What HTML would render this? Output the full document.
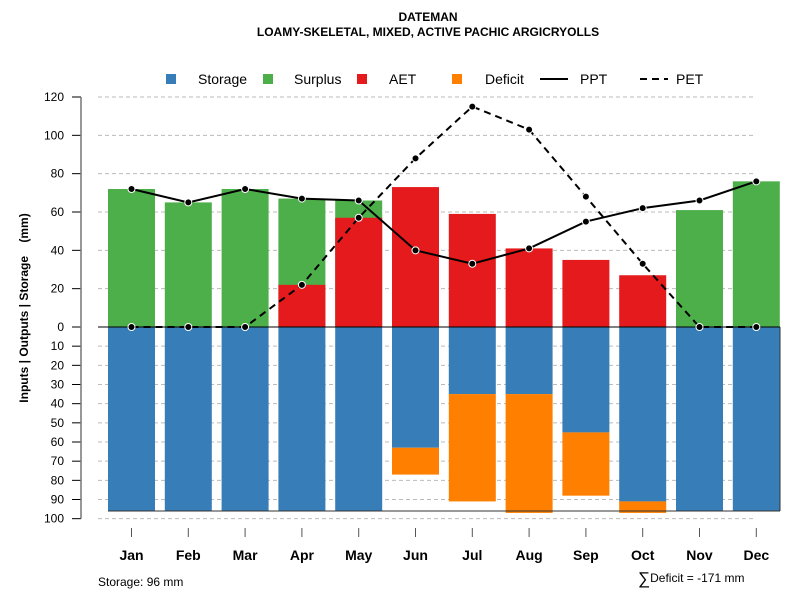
<!DOCTYPE html>
<html><head><meta charset="utf-8"><style>
body{margin:0;background:#fff}
svg text{font-family:"Liberation Sans",sans-serif}
</style></head><body>
<svg id="c" width="800" height="600" xmlns="http://www.w3.org/2000/svg">
<text x="428" y="21" text-anchor="middle" font-size="12" font-weight="bold">DATEMAN</text>
<text x="428" y="36" text-anchor="middle" font-size="12" font-weight="bold">LOAMY-SKELETAL, MIXED, ACTIVE PACHIC ARGICRYOLLS</text>
<g>
<rect x="166" y="74" width="10" height="10" fill="#377eb8"/>
<text x="198" y="84" font-size="14">Storage</text>
<rect x="263" y="74" width="10" height="10" fill="#4daf4a"/>
<text x="294" y="84" font-size="14">Surplus</text>
<rect x="357" y="74" width="10" height="10" fill="#e41a1c"/>
<text x="389" y="84" font-size="14">AET</text>
<rect x="452" y="74" width="10" height="10" fill="#ff7f00"/>
<text x="485" y="84" font-size="14">Deficit</text>
<line x1="540" y1="79" x2="568" y2="79" stroke="#000" stroke-width="2"/>
<text x="580" y="84" font-size="14">PPT</text>
<line x1="640" y1="79" x2="668" y2="79" stroke="#000" stroke-width="2" stroke-dasharray="7,5"/>
<text x="676" y="84" font-size="14">PET</text>
</g>
<text transform="translate(28,308) rotate(-90)" text-anchor="middle" font-size="12" font-weight="bold" style="white-space:pre">Inputs | Outputs | Storage    (mm)</text>
<text x="98" y="586" font-size="12">Storage: 96 mm</text>
<text x="638" y="582" font-size="12"><tspan font-size="17" dy="2">∑</tspan><tspan dy="-2">Deficit = -171 mm</tspan></text>
<g id="grid"></g><g id="bars"></g><g id="axes"></g><g id="lines"></g>
</svg>
<script>
const months=["Jan","Feb","Mar","Apr","May","Jun","Jul","Aug","Sep","Oct","Nov","Dec"];
const ppt=[72,65,72,67,66,40,33,41,55,62,66,76];
const pet=[0,0,0,22,57,88,115,103,68,33,0,0];
const aet=[0,0,0,22,57,73,59,41,35,27,0,0];
const surplusTop=[72,65,72,67,66,0,0,0,0,0,61,76];
const storage=[96,96,96,96,96,63,35,35,55,91,96,96];
const deficit=[0,0,0,0,0,14,56,62,33,6,0,0];
const upTicks=[0,20,40,60,80,100,120];
const downTicks=[10,20,30,40,50,60,70,80,90,100];
const NS="http://www.w3.org/2000/svg";
const y0=327,k=1.9167;
const yUp=v=>y0-v*k, yDn=v=>y0+v*k;
const xC=i=>131.5+56.8*i, bw=47;
function mk(tag,attrs,parent){const e=document.createElementNS(NS,tag);for(const a in attrs)e.setAttribute(a,attrs[a]);document.getElementById(parent).appendChild(e);return e;}
upTicks.forEach(t=>{
 if(t>0){const g=mk('line',{x1:98,x2:755,y1:yUp(t),y2:yUp(t),stroke:'#bbb','stroke-dasharray':'4,3'},'grid');
 
 }
 const l=mk('line',{x1:72,x2:81,y1:yUp(t),y2:yUp(t),stroke:'#000'},'axes');
 
 
 const tx=mk('text',{x:64,y:yUp(t)+4,'text-anchor':'end','font-size':12},'axes');tx.textContent=t;
 
 
});
downTicks.forEach(t=>{
 const g=mk('line',{x1:98,x2:755,y1:yDn(t),y2:yDn(t),stroke:'#bbb','stroke-dasharray':'4,3'},'grid');
 
 
 const l=mk('line',{x1:72,x2:81,y1:yDn(t),y2:yDn(t),stroke:'#000'},'axes');
 
 
 const tx=mk('text',{x:64,y:yDn(t)+4,'text-anchor':'end','font-size':12},'axes');tx.textContent=t;
 
 
});
const ax=mk('line',{x1:81,x2:81,y1:yUp(120),y2:yDn(100),stroke:'#777','stroke-width':1.5},'axes');


months.forEach((m,i)=>{
 const x=xC(i)-bw/2;
 if(surplusTop[i]>0){const r=mk('rect',{x:x,y:yUp(surplusTop[i]),width:bw,height:surplusTop[i]*k,fill:'#4daf4a'},'bars');
  
  }
 if(aet[i]>0){const r=mk('rect',{x:x,y:yUp(aet[i]),width:bw,height:aet[i]*k,fill:'#e41a1c'},'bars');
  
  }
 const s=mk('rect',{x:x,y:y0,width:bw,height:storage[i]*k,fill:'#377eb8'},'bars');
 
 
 if(deficit[i]>0){const r=mk('rect',{x:x,y:yDn(storage[i]),width:bw,height:deficit[i]*k,fill:'#ff7f00'},'bars');
  
  }
 const t=mk('line',{x1:xC(i),x2:xC(i),y1:528,y2:537,stroke:'#555'},'axes');
 
 
 const tx=mk('text',{x:xC(i),y:560,'text-anchor':'middle','font-size':14,'font-weight':'bold'},'axes');tx.textContent=m;
 
 
});
const zl=mk('line',{x1:98,x2:780,y1:y0,y2:y0,stroke:'#000'},'bars');


const sl=mk('line',{x1:108,x2:780,y1:yDn(96),y2:yDn(96),stroke:'#333'},'bars');


const sr=mk('line',{x1:780,x2:780,y1:y0,y2:yDn(96),stroke:'#333'},'bars');


function series(arr,name,dash){
 const p=mk('polyline',{points:arr.map((v,i)=>xC(i)+','+yUp(v)).join(' '),fill:'none',stroke:'#000','stroke-width':2,'stroke-dasharray':dash},'lines');
 
 
 arr.forEach((v,i)=>{const c=mk('circle',{cx:xC(i),cy:yUp(v),r:3.5,fill:'#000',stroke:'#fff','stroke-width':1},'lines');
  
  });
}
series(pet,'pet','7,5');
series(ppt,'ppt','none');
</script>
</body></html>
